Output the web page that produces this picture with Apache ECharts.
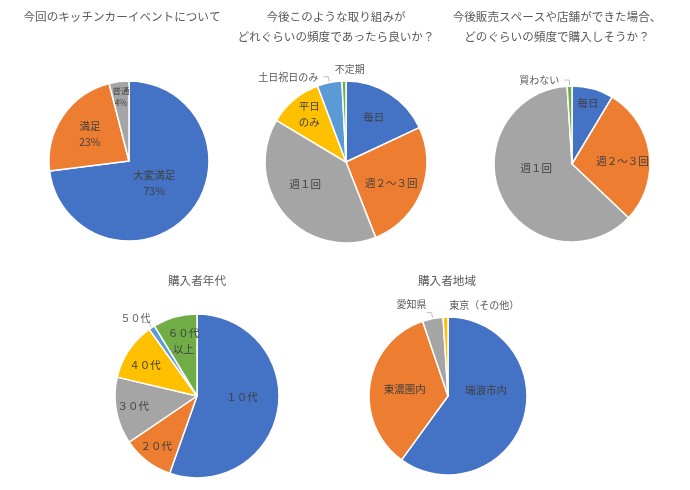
<!DOCTYPE html>
<html><head><meta charset="utf-8">
<script src="https://cdn.jsdelivr.net/npm/echarts@6/dist/echarts.min.js"></script>
<style>html,body{margin:0;padding:0;background:#fff}#c{width:690px;height:490px}</style>
</head><body><div id="c"></div>
<script>
// ---- data ----
const chart1Names = ['大変満足','満足','普通'];
const chart1Values = [73,23,4];
const chart2Names = ['毎日','週２～３回','週１回','平日\nのみ','土日祝日のみ','不定期'];
const chart2Values = [18,26,39.5,10.7,4.9,0.8];
const chart3Names = ['毎日','週２～３回','週１回','買わない'];
const chart3Values = [8.6,28.5,61.9,1];
const chart4Names = ['１０代','２０代','３０代','４０代','５０代','６０代\n以上'];
const chart4Values = [55.4,10.1,13.2,11.4,1.2,8.7];
const chart5Names = ['瑞浪市内','東濃圏内','愛知県','東京（その他）'];
const chart5Values = [60,34.8,4.2,1];

// ---- style ----
const colors = ['#4472C4','#ED7D31','#A5A5A5','#FFC000','#5B9BD5','#70AD47'];
const FONT = '"Noto Sans CJK JP", "Noto Sans", sans-serif';
const pies = [
  {center:[129,161], r:80, inR:[0.39,0.55,0.75], adj:{}, out:[], shift:{}},
  {center:[346,162], r:81, inR:[0.66,0.61,0.57,0.73], adj:{0:[-3,3],1:[-4,1],2:[-3,-10],3:[4,1]}, out:[4,5], shift:{5:['right',1]}},
  {center:[572,164], r:78, inR:[0.8,0.63,0.47], adj:{0:[-2,4],1:[-2,4],2:[0,-13]}, out:[3], shift:{}},
  {center:[197,396], r:82, inR:[0.52,0.76,0.76,0.74,0,0.69], adj:{0:[0,-7],1:[0,-3],2:[2,-2],3:[2,5],5:[3,3]}, out:[4], shift:{4:[12,-4]}},
  {center:[448,396], r:79, inR:[0.47,0.55], adj:{0:[0,-18],1:[3,0]}, out:[2,3], shift:{2:[5,-8],3:['right',14]}}
];

function mk(names, values, cfg, colorIdx){
  return names.map((n,i)=>{
    const d = {name:n, value:values[i], itemStyle:{color:colors[colorIdx?colorIdx[i]:i]}};
    if (cfg.out.indexOf(i) >= 0) {
      d.label = {show:true, position:'outside', color:'#595959', fontSize:10, formatter:'{b}'};
      const s = cfg.shift[i];
      const noLine = s && s[0] === 'right';
      d.labelLine = {show:!noLine, length:6, length2:5, lineStyle:{color:'#BFBFBF', width:1}};
    }
    return d;
  });
}
function pie(cfg, data, extra){
  return Object.assign({
    type:'pie', center:cfg.center, radius:cfg.r, startAngle:90, clockwise:true,
    avoidLabelOverlap:false, animation:false,
    itemStyle:{borderColor:'#fff', borderWidth:1.5},
    label:{show:true, position:'inside', color:'#404040', fontSize:10.5, fontFamily:FONT, formatter:'{b}', lineHeight:16},
    labelLine:{show:false},
    labelLayout:function(p){
      const i = p.dataIndex;
      const lr = p.labelRect;
      if (cfg.out.indexOf(i) >= 0) {
        const s = cfg.shift[i];
        if (s && s[0] === 'right') return {dx: lr.width + s[1], dy: -6, hideOverlap:false};
        if (s) return {dx:s[0], dy:s[1], hideOverlap:false};
        return {hideOverlap:false};
      }
      const k = cfg.inR[i];
      if (!k) return {hideOverlap:false};
      const cx = lr.x + lr.width/2, cy = lr.y + lr.height/2;
      const vx = cx - cfg.center[0], vy = cy - cfg.center[1];
      const f = k/0.5 - 1;
      const a = cfg.adj[i] || [0,0];
      return {dx: vx*f + a[0], dy: vy*f + a[1], hideOverlap:false};
    },
    data:data
  }, extra||{});
}
const tStyle = {color:'#595959', fontSize:11.6, fontWeight:'normal', fontFamily:FONT, lineHeight:20, align:'center'};
const tBase = {textAlign:'center', padding:0, textStyle:tStyle};
const chart = echarts.init(document.getElementById('c'));
const d1 = mk(chart1Names, chart1Values, pies[0]);
d1[2].label = {fontSize:8.5, lineHeight:12};
chart.setOption({
  backgroundColor:'#fff',
  title:[
    Object.assign({text:'今回のキッチンカーイベントについて', left:122, top:7}, tBase),
    Object.assign({text:'今後このような取り組みが\nどれぐらいの頻度であったら良いか？', left:336, top:7}, tBase),
    Object.assign({text:'今後販売スペースや店舗ができた場合、\nどのぐらいの頻度で購入しそうか？', left:557, top:7}, tBase),
    Object.assign({text:'購入者年代', left:197, top:271}, tBase),
    Object.assign({text:'購入者地域', left:447, top:271}, tBase)
  ],
  series:[
    pie(pies[0], d1, {label:{show:true, position:'inside', color:'#404040', fontSize:10.5, fontFamily:FONT, formatter:'{b}\n{d}%', lineHeight:16}}),
    pie(pies[1], mk(chart2Names, chart2Values, pies[1])),
    pie(pies[2], mk(chart3Names, chart3Values, pies[2], [0,1,2,5])),
    pie(pies[3], mk(chart4Names, chart4Values, pies[3])),
    pie(pies[4], mk(chart5Names, chart5Values, pies[4]))
  ]
});
</script></body></html>
